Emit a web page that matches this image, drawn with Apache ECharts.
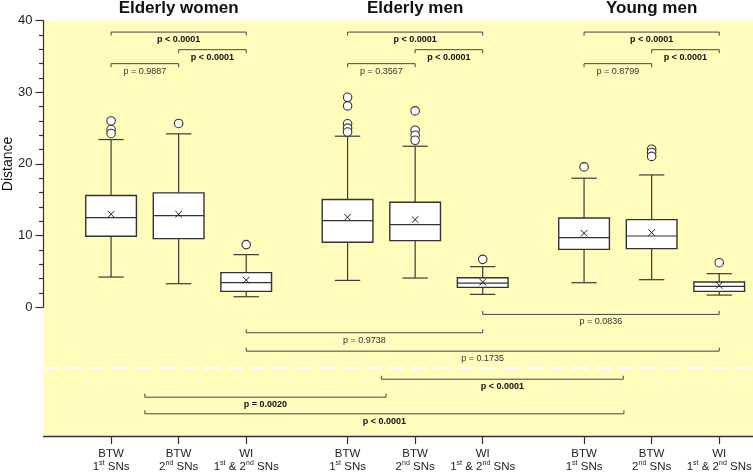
<!DOCTYPE html>
<html>
<head>
<meta charset="utf-8">
<script src="https://cdn.jsdelivr.net/npm/echarts@6/dist/echarts.min.js"></script>
<style>
html,body{margin:0;padding:0;background:#fff;}
#chart{width:753px;height:472px;}
</style>
</head>
<body>
<div id="chart"></div>
<script>
// ---------- data ----------
const positions   = [1, 2, 3, 4.5, 5.5, 6.5, 8, 9, 10];
const tickLine1   = ['BTW', 'BTW', 'WI', 'BTW', 'BTW', 'WI', 'BTW', 'BTW', 'WI'];
const tickLine2   = ['1st SNs', '2nd SNs', '1st & 2nd SNs', '1st SNs', '2nd SNs', '1st & 2nd SNs', '1st SNs', '2nd SNs', '1st & 2nd SNs'];
const groups      = ['Elderly women', 'Elderly men', 'Young men'];
const groupCenter = [2, 5.5, 9];

const whiskerLow  = [4.2, 3.27, 1.45, 3.73, 4.06, 1.78, 3.41, 3.83, 1.68];
const q1          = [9.89, 9.56, 2.2, 9.05, 9.28, 2.76, 8.07, 8.17, 2.2];
const median      = [12.5, 12.78, 3.41, 12.08, 11.52, 3.36, 9.7, 9.93, 2.9];
const q3          = [15.58, 15.95, 4.81, 15.02, 14.64, 4.11, 12.45, 12.22, 3.5];
const whiskerHigh = [23.4, 24.2, 7.33, 23.87, 22.47, 5.65, 18.0, 18.46, 4.67];
const mean        = [12.97, 12.97, 3.78, 12.55, 12.22, 3.5, 10.31, 10.4, 3.03];
const outliers    = [
  [26.0, 24.8, 24.25],
  [25.65],
  [8.73],
  [29.3, 28.1, 25.6, 25.0, 24.45],
  [27.4, 24.7, 24.0, 23.3],
  [6.67],
  [19.58],
  [22.05, 21.6, 21.05],
  [6.2]
];

const bracketFrom = [1, 2, 1, 4.5, 5.5, 4.5, 8, 9, 8, 3, 6.5, 3, 5.0, 1.5, 1.5];
const bracketTo   = [3, 3, 2, 6.5, 6.5, 5.5, 10, 10, 9, 6.5, 10, 10, 8.58, 5.07, 8.59];
const bracketY    = [38.41, 35.95, 34.0, 38.41, 35.95, 34.0, 38.41, 35.95, 34.0, -3.58, -1.02, -6.15, -10.07, -12.58, -14.9];
const bracketText = ['p < 0.0001', 'p < 0.0001', 'p = 0.9887',
                     'p < 0.0001', 'p < 0.0001', 'p = 0.3567',
                     'p < 0.0001', 'p < 0.0001', 'p = 0.8799',
                     'p = 0.9738', 'p = 0.0836', 'p = 0.1735',
                     'p < 0.0001', 'p = 0.0020', 'p < 0.0001'];
const bracketBold = [true, true, false, true, true, false, true, true, false,
                     false, false, false, true, true, true];
const dividerY    = [-8.52];

const yMin = -18, yMax = 40, xMin = 0, xMax = 10.5;

// ---------- chart ----------
const FONT = '"Liberation Sans", Arial, Helvetica, sans-serif';
const chart = echarts.init(document.getElementById('chart'), null, {renderer: 'canvas'});

function tickLabel(v) {
  let idx = positions.findIndex(p => Math.abs(p - v) < 1e-6);
  if (idx < 0) return '';
  const l2 = '{n|' + tickLine2[idx].replace(/(\d)(st|nd|rd|th)/g, '$1}{s|$2}{n|') + '}';
  return '{n|' + tickLine1[idx] + '}\n' + l2;
}

const boxData = positions.map((p, i) => [p, whiskerLow[i], q1[i], median[i], q3[i], whiskerHigh[i], mean[i]]);
const outlierData = [];
positions.forEach((p, i) => outliers[i].forEach(v => outlierData.push([p, v])));
const bracketData = bracketFrom.map((f, i) => [f, bracketTo[i], bracketY[i], i]);
const titleData = groupCenter.map((c, i) => [c, yMax, i]);

const BOX_W = 0.75, CAP_W = 0.375;
const LINE = '#3a3a3a';

const option = {
  animation: false,
  backgroundColor: '#ffffff',
  grid: [
    {left: 43.5, right: 0, top: 20.7, bottom: 36, show: true, backgroundColor: '#FFFCBC', borderWidth: 0,
     containLabel: false, outerBoundsMode: 'none'},
    {left: 43.5, right: 0, top: 20.7, height: 286.4, show: false, containLabel: false, outerBoundsMode: 'none'}
  ],
  xAxis: [
    {
      gridIndex: 0, type: 'value', min: xMin, max: xMax,
      axisLine: {show: true, onZero: false, lineStyle: {color: '#333', width: 1.3}},
      axisTick: {show: true, customValues: positions, length: 8, lineStyle: {color: '#333', width: 1.2}},
      axisLabel: {
        show: true, customValues: positions, margin: 11, formatter: tickLabel, align: 'center',
        rich: {
          n: {fontFamily: FONT, fontSize: 11.5, color: '#222', lineHeight: 13},
          s: {fontFamily: FONT, fontSize: 7, color: '#222', lineHeight: 7, verticalAlign: 'top'}
        }
      },
      splitLine: {show: false}
    },
    {gridIndex: 1, type: 'value', min: xMin, max: xMax, show: false}
  ],
  yAxis: [
    {gridIndex: 0, type: 'value', min: yMin, max: yMax, show: false, splitLine: {show: false}},
    {
      gridIndex: 1, type: 'value', min: 0, max: 40, interval: 10,
      axisLine: {show: true, onZero: false, lineStyle: {color: '#333', width: 1.2}},
      axisTick: {show: true, length: 8, lineStyle: {color: '#333', width: 1.2}},
      minorTick: {show: true, splitNumber: 5, length: 4.5, lineStyle: {color: '#333', width: 1.2}},
      axisLabel: {fontFamily: FONT, fontSize: 13, color: '#222', margin: 11},
      splitLine: {show: false},
      minorSplitLine: {show: false},
      name: 'Distance', nameLocation: 'middle', nameGap: 28, nameMoveOverlap: false,
      nameTextStyle: {fontFamily: FONT, fontSize: 14, color: '#111'}
    }
  ],
  series: [
    {
      // divider
      type: 'custom', xAxisIndex: 0, yAxisIndex: 0, z: 2,
      data: dividerY.map(v => [v]),
      renderItem(params, api) {
        const y = api.value(0);
        const a = api.coord([xMin, y]), b = api.coord([xMax, y]);
        return {type: 'line', shape: {x1: a[0], y1: a[1], x2: b[0], y2: b[1]},
          style: {stroke: '#ffffff', lineWidth: 2.5, lineDash: [16, 7]}};
      }
    },
    {
      // brackets
      type: 'custom', xAxisIndex: 0, yAxisIndex: 0, z: 3,
      data: bracketData,
      renderItem(params, api) {
        const i = api.value(3);
        const a = api.coord([api.value(0), api.value(2)]);
        const b = api.coord([api.value(1), api.value(2)]);
        const dir = api.value(2) > 0 ? 1 : -1; // ticks toward the boxes
        const t = 3.5 * dir;
        return {type: 'group', children: [
          {type: 'polyline', shape: {points: [[a[0], a[1] + t], [a[0], a[1]], [b[0], b[1]], [b[0], b[1] + t]]},
            style: {stroke: '#444', lineWidth: 1, fill: null}},
          {type: 'text', x: (a[0] + b[0]) / 2, y: a[1] + 7.5,
            style: {text: bracketText[i], fontFamily: FONT, fontSize: 9,
              fontWeight: bracketBold[i] ? 'bold' : 'normal',
              fill: bracketBold[i] ? '#111' : '#333', align: 'center', verticalAlign: 'middle'}}
        ]};
      }
    },
    {
      // boxes
      type: 'custom', xAxisIndex: 0, yAxisIndex: 0, z: 4,
      data: boxData,
      renderItem(params, api) {
        const x = api.value(0);
        const c = v => api.coord([x, v]);
        const w = api.size([BOX_W, 0])[0];
        const cw = api.size([CAP_W, 0])[0];
        const lo = c(api.value(1)), b1 = c(api.value(2)), md = c(api.value(3)),
              b3 = c(api.value(4)), hi = c(api.value(5)), mn = c(api.value(6));
        const cx = lo[0];
        const ls = {stroke: LINE, lineWidth: 1.2};
        const s = 3.3;
        return {type: 'group', children: [
          {type: 'line', shape: {x1: cx, y1: lo[1], x2: cx, y2: b1[1]}, style: ls},
          {type: 'line', shape: {x1: cx, y1: b3[1], x2: cx, y2: hi[1]}, style: ls},
          {type: 'line', shape: {x1: cx - cw / 2, y1: lo[1], x2: cx + cw / 2, y2: lo[1]}, style: ls},
          {type: 'line', shape: {x1: cx - cw / 2, y1: hi[1], x2: cx + cw / 2, y2: hi[1]}, style: ls},
          {type: 'rect', shape: {x: cx - w / 2, y: b3[1], width: w, height: b1[1] - b3[1]},
            style: {fill: '#ffffff', stroke: '#333', lineWidth: 1.4}},
          {type: 'line', shape: {x1: cx - w / 2, y1: md[1], x2: cx + w / 2, y2: md[1]}, style: {stroke: '#333', lineWidth: 1.2}},
          {type: 'line', shape: {x1: cx - s, y1: mn[1] - s, x2: cx + s, y2: mn[1] + s}, style: {stroke: '#222', lineWidth: 1}},
          {type: 'line', shape: {x1: cx - s, y1: mn[1] + s, x2: cx + s, y2: mn[1] - s}, style: {stroke: '#222', lineWidth: 1}}
        ]};
      }
    },
    {
      // outliers
      type: 'scatter', xAxisIndex: 0, yAxisIndex: 0, z: 5,
      data: outlierData, symbol: 'circle', symbolSize: 8.5,
      itemStyle: {color: '#ffffff', borderColor: '#333', borderWidth: 1.1, opacity: 1}
    },
    {
      // group titles
      type: 'custom', xAxisIndex: 0, yAxisIndex: 0, z: 6,
      data: titleData,
      renderItem(params, api) {
        const p = api.coord([api.value(0), api.value(1)]);
        return {type: 'text', x: p[0], y: p[1] - 12,
          style: {text: groups[api.value(2)], fontFamily: FONT, fontSize: 17, fontWeight: 'bold',
            fill: '#111', align: 'center', verticalAlign: 'middle'}};
      }
    }
  ]
};
chart.setOption(option);
</script>
</body>
</html>
